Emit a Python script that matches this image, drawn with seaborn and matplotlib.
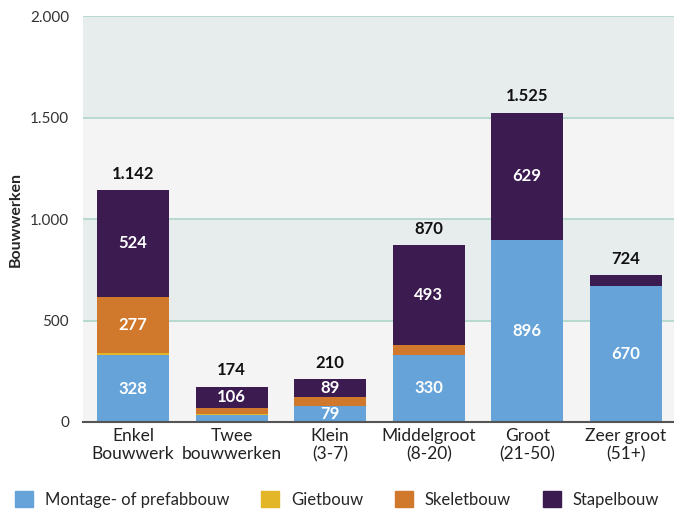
import matplotlib.pyplot as plt
import matplotlib.patches as mpatches
import pandas as pd
import seaborn as sns
import numpy as np

# Data
categories = ["Enkel\nBouwwerk", "Twee\nbouwwerken", "Klein\n(3-7)",
              "Middelgroot\n(8-20)", "Groot\n(21-50)", "Zeer groot\n(51+)"]
montage = [328, 33, 79, 330, 896, 670]
giet = [13, 5, 2, 0, 0, 0]
skelet = [277, 30, 40, 47, 0, 0]
stapel = [524, 106, 89, 493, 629, 54]
totals = [1142, 174, 210, 870, 1525, 724]

series_names = ["Montage- of prefabbouw", "Gietbouw", "Skeletbouw", "Stapelbouw"]
colors = ["#65a3d9", "#e2b627", "#d0782c", "#3c1b51"]

df = pd.DataFrame({"cat": categories, "montage": montage, "giet": giet,
                   "skelet": skelet, "stapel": stapel})
df["c1"] = df.montage
df["c2"] = df.c1 + df.giet
df["c3"] = df.c2 + df.skelet
df["c4"] = df.c3 + df.stapel

sns.set_style("white")
plt.rcParams["font.family"] = ["Lato", "DejaVu Sans"]

fig = plt.figure(figsize=(6.74, 5.2), dpi=100)
ax = fig.add_axes([0.123, 0.1885, 0.877, 0.7805])

# background bands
band_dark = "#e7eded"
band_light = "#f3f4f3"
for lo, hi, c in [(0, 500, band_light), (500, 1000, band_dark),
                  (1000, 1500, band_light), (1500, 2000, band_dark)]:
    ax.axhspan(lo, hi, color=c, zorder=0, lw=0)
for y in [500, 1000, 1500, 2000]:
    ax.axhline(y, color="#b2d7cd", lw=1.3, zorder=0.5)

# stacked bars, drawn back to front from cumulative totals
for col, c in zip(["c4", "c3", "c2", "c1"], colors[::-1]):
    sns.barplot(data=df, x="cat", y=col, color=c, width=0.73,
                saturation=1, ax=ax, zorder=2, linewidth=0)

fmt = lambda v: f"{v:,}".replace(",", ".")

# segment labels
for i in range(len(categories)):
    bottom = 0
    for vals in [montage, giet, skelet, stapel]:
        v = vals[i]
        if v >= 60:
            ax.text(i, bottom + v / 2, fmt(v), ha="center", va="center",
                    color="white", fontsize=12, fontweight="bold", zorder=3)
        bottom += v
    ax.annotate(fmt(totals[i]), (i, totals[i]), xytext=(0, 6),
                textcoords="offset points", ha="center", va="bottom",
                fontsize=12, fontweight="bold", color="#111111")

ax.set_xlim(-0.51, 5.49)
ax.set_ylim(0, 2000)
ax.set_yticks([0, 500, 1000, 1500, 2000])
ax.set_yticklabels([fmt(v) for v in [0, 500, 1000, 1500, 2000]],
                   fontsize=11, color="#333333")
ax.tick_params(axis="y", length=6, color="#b2d7cd", width=1.3, pad=4)
ax.tick_params(axis="x", length=0, labelsize=12.5, labelcolor="#222222", pad=4)
ax.set_xlabel("")
ax.set_ylabel("Bouwwerken", fontsize=11.5, fontweight="bold", labelpad=5)

for s in ["top", "right", "left"]:
    ax.spines[s].set_visible(False)
ax.spines["bottom"].set_color("#555555")
ax.spines["bottom"].set_linewidth(1.5)
ax.spines["bottom"].set_zorder(4)

handles = [mpatches.Patch(color=c, label=n) for c, n in zip(colors, series_names)]
fig.legend(handles=handles, loc="lower center", ncol=4, frameon=False,
           bbox_to_anchor=(0.5, -0.005), fontsize=12, handlelength=1.1,
           handleheight=1.1, handletextpad=0.7, columnspacing=1.9)

fig.savefig("out.png", dpi=100)
